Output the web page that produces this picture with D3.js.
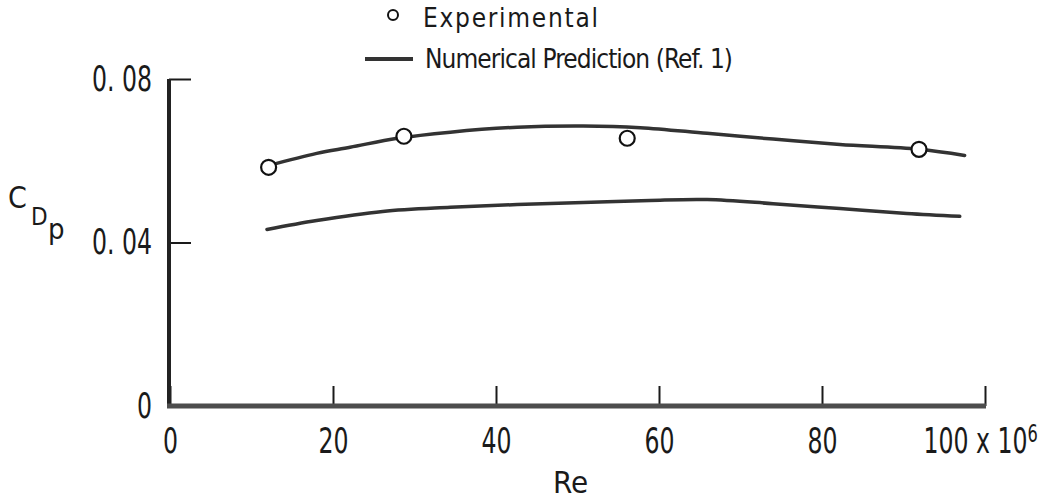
<!DOCTYPE html>
<html>
<head>
<meta charset="utf-8">
<script src="https://cdn.jsdelivr.net/npm/d3@7"></script>
<style>
  html, body { margin: 0; padding: 0; background: #fff; }
  svg { display: block; }
</style>
</head>
<body>
<div id="chart"></div>
<script>
// ---- data ----
const xTicks = [0, 20, 40, 60, 80, 100];
const xTickLabels = ["0", "20", "40", "60", "80", "100 x 10"];
const xExponent = "6";
const yTicks = [0, 0.04, 0.08];
const yTickLabels = ["0", "0. 04", "0. 08"];
const xAxisTitle = "Re";
const yAxisTitleParts = ["C", "D", "p"];
const legendLabels = ["Experimental", "Numerical Prediction (Ref. 1)"];

// Experimental points (Re in millions, C_Dp)
const expRe = [12.1, 28.7, 56.1, 91.9];
const expCd = [0.0584, 0.0660, 0.0655, 0.0628];

// Numerical prediction curves
const upperRe = [12.1, 18.0, 22.1, 27.9, 34.4, 42.6, 50.7, 57.7, 65.9, 74.0, 82.2, 91.9, 97.5];
const upperCd = [0.0588, 0.0618, 0.0633, 0.0655, 0.0670, 0.0682, 0.0685, 0.0681, 0.0667, 0.0653, 0.0640, 0.0628, 0.0613];
const lowerRe = [11.9, 18.0, 26.1, 34.4, 42.6, 50.7, 58.9, 65.9, 74.0, 82.2, 90.4, 96.9];
const lowerCd = [0.0432, 0.0454, 0.0476, 0.0486, 0.0493, 0.0498, 0.0503, 0.0505, 0.0495, 0.0483, 0.0471, 0.0464];

// ---- drawing ----
const W = 1051, H = 499;
const FONT = '"Liberation Sans Narrow", "DejaVu Sans Condensed", "Arial Narrow", sans-serif';
const INK = "#1a1a1a";
const SX = 0.75; // horizontal condensing of tick labels

const svg = d3.select("#chart").append("svg")
  .attr("width", W).attr("height", H)
  .attr("viewBox", `0 0 ${W} ${H}`);
svg.append("rect").attr("width", W).attr("height", H).attr("fill", "#fff");

const x = d3.scaleLinear().domain([0, 100]).range([170, 985]);
const y = d3.scaleLinear().domain([0, 0.08]).range([406, 79]);

// x axis
const gx = svg.append("g").attr("transform", `translate(0,${y(0)})`)
  .call(d3.axisBottom(x).tickValues(xTicks).tickSize(-20).tickPadding(22)
    .tickFormat((d, i) => xTickLabels[i]));
gx.select(".domain").remove();
gx.selectAll(".tick line").attr("stroke", INK).attr("stroke-width", 2);
gx.selectAll(".tick text")
  .attr("font-family", FONT).attr("font-size", 35).attr("fill", INK)
  .attr("transform", `scale(${SX},1)`);
// exponent on last label
gx.selectAll(".tick text").filter((d, i) => i === xTicks.length - 1)
  .attr("text-anchor", "start").attr("x", -62 / SX)
  .append("tspan").attr("dy", "-0.45em").attr("font-size", 24).text(xExponent);

// y axis
const gy = svg.append("g").attr("transform", `translate(${x(0) - 1},0)`)
  .call(d3.axisLeft(y).tickValues(yTicks).tickSize(-22).tickPadding(17)
    .tickFormat((d, i) => yTickLabels[i]));
gy.select(".domain").remove();
gy.selectAll(".tick line").attr("stroke", INK).attr("stroke-width", 2);
gy.selectAll(".tick text")
  .attr("font-family", FONT).attr("font-size", 35).attr("fill", INK)
  .attr("transform", `scale(${SX},1)`).attr("x", -17 / SX);

// axis lines
svg.append("line")
  .attr("x1", x(0) - 1).attr("x2", x(0) - 1)
  .attr("y1", y(0.08)).attr("y2", y(0) + 2)
  .attr("stroke", "#222").attr("stroke-width", 4);
svg.append("line")
  .attr("x1", x(0) - 3).attr("x2", x(100) + 1)
  .attr("y1", y(0)).attr("y2", y(0))
  .attr("stroke", "#4d4d4d").attr("stroke-width", 5);

// curves
const line = d3.line().x(d => x(d[0])).y(d => y(d[1])).curve(d3.curveCatmullRom.alpha(0.5));
const curveStyle = sel => sel.attr("fill", "none").attr("stroke", "#333")
  .attr("stroke-width", 3.5).attr("stroke-linecap", "round");
svg.append("path").datum(upperRe.map((r, i) => [r, upperCd[i]])).attr("d", line).call(curveStyle);
svg.append("path").datum(lowerRe.map((r, i) => [r, lowerCd[i]])).attr("d", line).call(curveStyle);

// experimental points
svg.append("g").selectAll("circle")
  .data(expRe.map((r, i) => [r, expCd[i]]))
  .join("circle")
  .attr("cx", d => x(d[0])).attr("cy", d => y(d[1])).attr("r", 7.5)
  .attr("fill", "#fff").attr("stroke", "#111").attr("stroke-width", 2.2);

// axis titles
svg.append("text").attr("x", 553).attr("y", 493)
  .attr("font-family", FONT).attr("font-size", 31).attr("fill", INK).text(xAxisTitle);
const yt = svg.append("g").attr("font-family", FONT).attr("fill", INK);
yt.append("text").attr("x", 8).attr("y", 208).attr("font-size", 30).text(yAxisTitleParts[0]);
yt.append("text").attr("x", 31).attr("y", 225).attr("font-size", 24).text(yAxisTitleParts[1]);
yt.append("text").attr("x", 48).attr("y", 239).attr("font-size", 29).text(yAxisTitleParts[2]);

// legend
const lg = svg.append("g").attr("font-family", FONT).attr("fill", INK);
lg.append("circle").attr("cx", 393).attr("cy", 15).attr("r", 5)
  .attr("fill", "#fff").attr("stroke", "#111").attr("stroke-width", 2);
lg.append("text").attr("x", 423).attr("y", 27).attr("font-size", 26)
  .attr("textLength", 175).attr("lengthAdjust", "spacing").text(legendLabels[0]);
lg.append("line").attr("x1", 365).attr("x2", 413).attr("y1", 59).attr("y2", 59)
  .attr("stroke", "#333").attr("stroke-width", 4);
lg.append("text").attr("x", 425).attr("y", 68).attr("font-size", 26)
  .attr("textLength", 308).attr("lengthAdjust", "spacing").text(legendLabels[1]);
</script>
</body>
</html>
